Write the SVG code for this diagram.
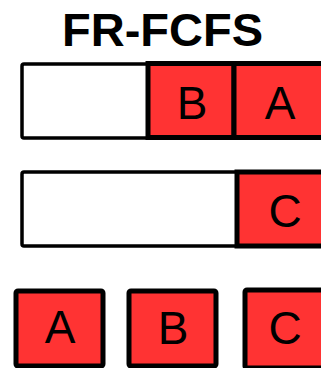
<svg xmlns="http://www.w3.org/2000/svg" width="321" height="368" viewBox="0 0 321 368">
  <style>
    .slot { fill: #ffffff; stroke: #000000; stroke-width: 3.5; }
    .req { fill: #ff3333; stroke: #000000; stroke-width: 5; }
    .lbl { font-family: "Liberation Sans", Arial, sans-serif; font-size: 46px; fill: #000000; text-anchor: middle; }
    .title { font-family: "Liberation Sans", Arial, sans-serif; font-size: 47px; font-weight: bold; fill: #000000; text-anchor: middle; }
  </style>
  <rect width="321" height="368" fill="#ffffff"/>
  <text class="title" x="162.5" y="46">FR-FCFS</text>

  <!-- queue 1 -->
  <g id="queue1">
    <rect class="slot" x="22" y="64" width="320" height="74" rx="2"/>
  </g>
  <g id="q1-B">
    <rect class="req" x="148" y="63.5" width="86" height="74"/>
    <text class="lbl" x="192" y="119">B</text>
  </g>
  <g id="q1-A">
    <rect class="req" x="234" y="63.5" width="100" height="74"/>
    <text class="lbl" x="280" y="119">A</text>
  </g>

  <!-- queue 2 -->
  <g id="queue2">
    <rect class="slot" x="22" y="172" width="320" height="74" rx="2"/>
  </g>
  <g id="q2-C">
    <rect class="req" x="237" y="172" width="100" height="74"/>
    <text class="lbl" x="285" y="227">C</text>
  </g>

  <!-- served order -->
  <g id="out-A">
    <rect class="req" x="16" y="291" width="87" height="75" rx="2"/>
    <text class="lbl" x="60" y="343">A</text>
  </g>
  <g id="out-B">
    <rect class="req" x="129" y="291" width="87" height="75" rx="2"/>
    <text class="lbl" x="173" y="344">B</text>
  </g>
  <g id="out-C">
    <rect class="req" x="245" y="290" width="90" height="78" rx="2"/>
    <text class="lbl" x="285" y="344">C</text>
  </g>
</svg>
